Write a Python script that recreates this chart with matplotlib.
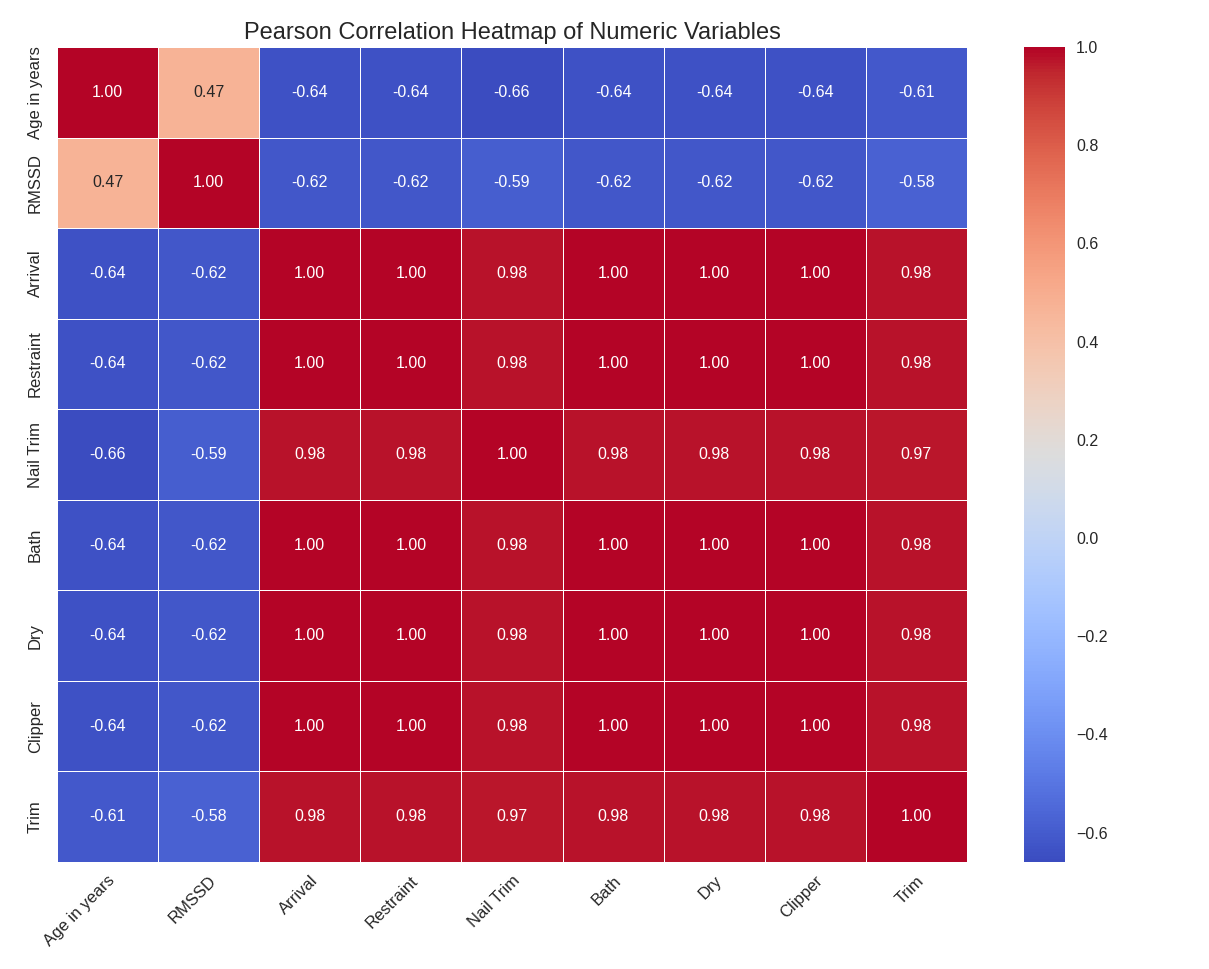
import numpy as np
import pandas as pd
import matplotlib
matplotlib.use("Agg")
import matplotlib.pyplot as plt
import seaborn as sns

# Variables in the correlation matrix
variables = ["Age in years", "RMSSD", "Arrival", "Restraint", "Nail Trim",
             "Bath", "Dry", "Clipper", "Trim"]

# Pearson correlation coefficients (rows in the same order as variables)
row_age       = [1.00, 0.47, -0.64, -0.64, -0.66, -0.64, -0.64, -0.64, -0.61]
row_rmssd     = [0.47, 1.00, -0.62, -0.62, -0.59, -0.62, -0.62, -0.62, -0.58]
row_arrival   = [-0.64, -0.62, 1.00, 1.00, 0.98, 1.00, 1.00, 1.00, 0.98]
row_restraint = [-0.64, -0.62, 1.00, 1.00, 0.98, 1.00, 1.00, 1.00, 0.98]
row_nailtrim  = [-0.66, -0.59, 0.98, 0.98, 1.00, 0.98, 0.98, 0.98, 0.97]
row_bath      = [-0.64, -0.62, 1.00, 1.00, 0.98, 1.00, 1.00, 1.00, 0.98]
row_dry       = [-0.64, -0.62, 1.00, 1.00, 0.98, 1.00, 1.00, 1.00, 0.98]
row_clipper   = [-0.64, -0.62, 1.00, 1.00, 0.98, 1.00, 1.00, 1.00, 0.98]
row_trim      = [-0.61, -0.58, 0.98, 0.98, 0.97, 0.98, 0.98, 0.98, 1.00]

corr = pd.DataFrame(
    [row_age, row_rmssd, row_arrival, row_restraint, row_nailtrim,
     row_bath, row_dry, row_clipper, row_trim],
    index=variables, columns=variables,
)

sns.set_style("whitegrid")
plt.rcParams["font.family"] = ["Liberation Sans", "DejaVu Sans"]
plt.rcParams["axes.unicode_minus"] = True

fig = plt.figure(figsize=(12.09, 9.69), dpi=100)
fig.patch.set_facecolor("white")
ax = fig.add_axes([0.0471, 0.1104, 0.7527, 0.8411])
cax = fig.add_axes([0.847, 0.1104, 0.034, 0.8411])

sns.heatmap(
    corr, ax=ax, cbar_ax=cax, cmap="coolwarm", annot=True, fmt=".2f",
    linewidths=0.6, linecolor="white",
    annot_kws={"fontsize": 11.5},
)

ax.set_title("Pearson Correlation Heatmap of Numeric Variables",
             fontsize=17, color="#262626", pad=6)
ax.set_xticklabels(ax.get_xticklabels(), rotation=45, ha="right",
                   rotation_mode="anchor", fontsize=12, color="#262626")
ax.set_yticklabels(ax.get_yticklabels(), rotation=90, va="center",
                   fontsize=12, color="#262626")
ax.tick_params(axis="x", length=0, pad=8)
ax.tick_params(axis="y", length=0, pad=10)

cax.tick_params(labelsize=11.5, length=0, labelcolor="#262626", pad=8)
cax.yaxis.set_major_locator(matplotlib.ticker.MultipleLocator(0.2))

fig.savefig("out.png", dpi=100, facecolor="white")
